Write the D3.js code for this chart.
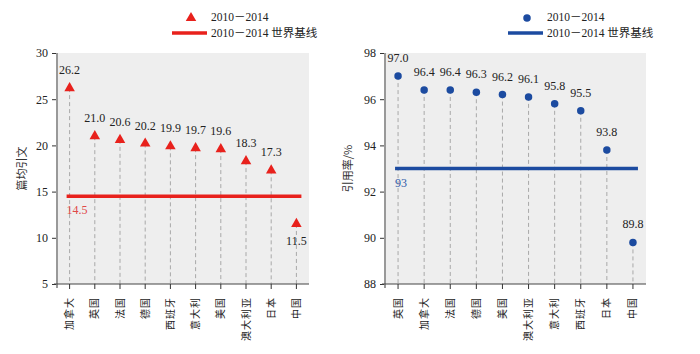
<!DOCTYPE html>
<html>
<head>
<meta charset="utf-8">
<script src="https://cdn.jsdelivr.net/npm/d3@7"></script>
<style>
  html, body { margin: 0; padding: 0; background: #fff; }
  svg text { font-family: "Liberation Serif", "Noto Sans CJK SC", serif; }
</style>
</head>
<body>
<div id="chart"></div>
<script>
// 左图：篇均引文
const leftCats   = ["加拿大", "英国", "法国", "德国", "西班牙", "意大利", "美国", "澳大利亚", "日本", "中国"];
const leftVals   = [26.2, 21.0, 20.6, 20.2, 19.9, 19.7, 19.6, 18.3, 17.3, 11.5];
const leftBase   = 14.5;
const leftTicks  = [5, 10, 15, 20, 25, 30];

// 右图：引用率/%
const rightCats  = ["英国", "加拿大", "法国", "德国", "美国", "澳大利亚", "意大利", "西班牙", "日本", "中国"];
const rightVals  = [97.0, 96.4, 96.4, 96.3, 96.2, 96.1, 95.8, 95.5, 93.8, 89.8];
const rightBase  = 93;
const rightTicks = [88, 90, 92, 94, 96, 98];

const seriesName = "2010－2014";
const baseName   = "2010－2014 世界基线";

const W = 700, H = 354;
const svg = d3.select("#chart").append("svg").attr("width", W).attr("height", H);

function drawPanel(o) {
  const g = svg.append("g");
  const x = d3.scaleBand().domain(o.cats).range([o.x0, o.x1]);
  const y = d3.scaleLinear().domain(o.domain).range([o.y1, o.y0]);
  const cx = d => x(d) + x.bandwidth() / 2;

  // 灰色背景
  g.append("rect")
    .attr("x", o.x0).attr("y", o.y0)
    .attr("width", o.x1 - o.x0).attr("height", o.y1 - o.y0)
    .attr("fill", "#eeeeee");

  // 垂直虚线
  g.append("g").selectAll("line")
    .data(o.cats).join("line")
    .attr("x1", d => cx(d)).attr("x2", d => cx(d))
    .attr("y1", (d, i) => y(o.vals[i])).attr("y2", o.y1)
    .attr("stroke", "#a8a8a8").attr("stroke-width", 1)
    .attr("stroke-dasharray", "4,3");

  // 基线
  g.append("line")
    .attr("x1", cx(o.cats[0]) - 3).attr("x2", cx(o.cats[o.cats.length - 1]) + 5)
    .attr("y1", y(o.base)).attr("y2", y(o.base))
    .attr("stroke", o.color).attr("stroke-width", 3.5);
  g.append("text")
    .attr("x", cx(o.cats[0]) - 3).attr("y", y(o.base) + 18)
    .attr("font-size", 12).attr("fill", o.labelColor)
    .text(o.base);

  // Y 轴
  g.append("g")
    .attr("transform", `translate(${o.x0},0)`)
    .call(d3.axisLeft(y).tickValues(o.ticks).tickSize(5).tickPadding(4))
    .call(a => a.select(".domain").remove())
    .call(a => a.selectAll("text").attr("font-size", 12).attr("fill", "#222")
      .style("font-family", "Liberation Serif"))
    .call(a => a.selectAll(".tick line").attr("stroke", "#333"));
  g.append("line")
    .attr("x1", o.x0).attr("x2", o.x0).attr("y1", o.y0).attr("y2", o.y1 + 4)
    .attr("stroke", "#999").attr("stroke-width", 2);

  // X 轴
  g.append("g")
    .attr("transform", `translate(0,${o.y1})`)
    .call(d3.axisBottom(x).tickSize(5).tickPadding(8))
    .call(a => a.select(".domain").attr("d", `M${o.x0 - 3},0H${o.x1}`).attr("stroke", "#444"))
    .call(a => a.selectAll(".tick line").attr("stroke", "#333"))
    .call(a => a.selectAll("text")
      .attr("font-size", 10).attr("fill", "#222")
      .attr("text-anchor", "end").attr("dy", "0.35em")
      .attr("transform", "translate(0,13) rotate(-90)")
      .attr("x", 0).attr("y", 0)
      .style("font-family", "Noto Sans CJK SC")
      .style("letter-spacing", "1px"));

  // Y 轴标题
  g.append("text")
    .attr("transform", `translate(${o.titleX},${(o.y0 + o.y1) / 2}) rotate(-90)`)
    .attr("text-anchor", "middle").attr("font-size", 11).attr("fill", "#333")
    .style("font-family", "Noto Sans CJK SC")
    .text(o.title);

  // 数据点
  const sym = d3.symbol().type(o.symbol).size(o.symSize);
  g.append("g").selectAll("path")
    .data(o.cats).join("path")
    .attr("transform", (d, i) => `translate(${cx(d)},${y(o.vals[i])})`)
    .attr("d", sym)
    .attr("fill", o.color);

  // 数值标签
  g.append("g").selectAll("text")
    .data(o.cats).join("text")
    .attr("x", d => cx(d))
    .attr("y", (d, i) => y(o.vals[i]) + (o.below.includes(d) ? 21 : -14))
    .attr("text-anchor", "middle").attr("font-size", 12).attr("fill", "#222")
    .text((d, i) => o.vals[i].toFixed(1));

  // 图例
  const lg = g.append("g");
  lg.append("path")
    .attr("transform", `translate(${o.legX - 20},${o.legY + 1})`)
    .attr("d", sym).attr("fill", o.color);
  lg.append("text").attr("x", o.legX).attr("y", o.legY + 4)
    .attr("font-size", 11.5).attr("fill", "#222").text(seriesName);
  lg.append("line")
    .attr("x1", o.legX - 39).attr("x2", o.legX - 4)
    .attr("y1", o.legY + 16).attr("y2", o.legY + 16)
    .attr("stroke", o.color).attr("stroke-width", 3.5);
  lg.append("text").attr("x", o.legX).attr("y", o.legY + 20)
    .attr("font-size", 11.5).attr("fill", "#222").text(baseName);
}

drawPanel({
  cats: leftCats, vals: leftVals, base: leftBase, ticks: leftTicks,
  domain: [5, 30], x0: 57, x1: 309, y0: 53, y1: 284,
  color: "#e8211c", labelColor: "#e04848",
  symbol: d3.symbolTriangle, symSize: 48,
  title: "篇均引文", titleX: 26, below: ["中国"],
  legX: 211, legY: 17
});

drawPanel({
  cats: rightCats, vals: rightVals, base: rightBase, ticks: rightTicks,
  domain: [88, 98], x0: 385, x1: 646, y0: 53, y1: 284,
  color: "#1c4ba0", labelColor: "#2e5aa8",
  symbol: d3.symbolCircle, symSize: 44,
  title: "引用率/%", titleX: 352, below: [],
  legX: 547, legY: 17
});
</script>
</body>
</html>
